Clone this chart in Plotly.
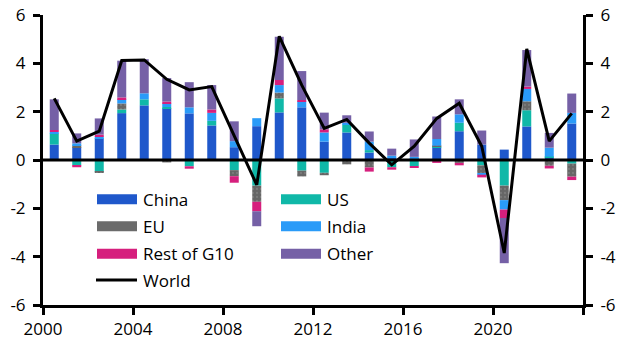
import plotly.graph_objects as go

years = list(range(2000, 2024))

china = [0.64, 0.53, 0.90, 1.94, 2.26, 2.14, 1.93, 1.43, 0.53, 1.40, 1.97, 2.18,
         0.76, 1.14, 0.31, 0.10, 0.05, 0.53, 1.19, 0.64, 0.43, 1.39, 0.11, 1.51]
us = [0.46, -0.22, -0.49, 0.15, 0.25, 0.05, -0.26, 0.19, -0.42, -1.06, 0.58, -0.44,
      -0.53, 0.33, 0.10, -0.30, -0.25, 0.03, 0.35, -0.22, -1.06, 0.67, 0.03, -0.15]
eu = [0.0, 0.08, -0.04, 0.25, 0.0, -0.10, 0.0, 0.0, -0.25, -0.67, 0.24, -0.24,
      -0.10, -0.18, -0.31, 0.0, 0.0, 0.03, -0.12, -0.32, -0.60, 0.37, -0.24, -0.54]
india = [0.06, 0.08, 0.07, 0.17, 0.25, 0.15, 0.25, 0.33, 0.25, 0.33, 0.31, 0.25,
         0.38, 0.07, 0.35, 0.08, 0.08, 0.28, 0.35, -0.07, -0.39, 0.51, 0.37, 0.44]
rest_g10 = [0.08, -0.08, 0.08, 0.08, 0.0, 0.08, -0.10, 0.14, -0.27, -0.39, 0.21, 0.05,
            0.13, 0.0, -0.17, -0.10, -0.08, -0.12, -0.10, -0.11, -0.35, 0.10, -0.11, -0.14]
other = [1.27, 0.41, 0.67, 1.52, 1.41, 0.97, 1.04, 1.01, 0.82, -0.62, 1.79, 1.20,
         0.69, 0.31, 0.42, 0.29, 0.72, 0.93, 0.62, 0.58, -1.87, 1.51, 0.61, 0.80]
world = [2.55, 0.78, 1.19, 4.12, 4.14, 3.34, 2.90, 3.04, 1.00, -1.03, 5.12, 3.10,
         1.31, 1.68, 0.70, -0.20, 0.57, 1.72, 2.35, 0.57, -3.85, 4.60, 0.78, 1.93]

y_ticks = [-6, -4, -2, 0, 2, 4, 6]
y_ticktext = ["-6", "-4", "-2", "0", "2", "4", "6"]
x_ticks = [2000, 2004, 2008, 2012, 2016, 2020, 2024]
x_ticktext = ["2000", "2004", "2008", "2012", "2016", "2020", ""]

series = [
    ("China", china, "#1F58CB"),
    ("US", us, "#10B8A8"),
    ("EU", eu, "#6B6B6B"),
    ("India", india, "#2A9BF8"),
    ("Rest of G10", rest_g10, "#D61F7D"),
    ("Other", other, "#7560A6"),
]

FONT = "Open Sans"
W, H = 632, 357
ML, MR, MT, MB = 43, 49, 15, 52
PW, PH = W - ML - MR, H - MT - MB

xc = [y + 0.5 for y in years]

fig = go.Figure()
for name, vals, col in series:
    marker = dict(color=col, line=dict(width=0))
    if name == "EU":
        marker["pattern"] = dict(shape=".", size=4, solidity=0.25,
                                 fgcolor="#8E8E8E", bgcolor="#666666")
    fig.add_trace(go.Bar(x=xc, y=vals, name=name, width=0.4, marker=marker,
                         showlegend=False))

fig.add_trace(go.Scatter(x=xc, y=world, mode="lines", name="World", yaxis="y2",
                         line=dict(color="black", width=3), showlegend=False))


def px_x(p):
    return (p - ML) / PW


def px_y(p):
    return (H - MB - p) / PH


shapes = [dict(type="line", xref="paper", yref="y", x0=0, x1=1, y0=0, y1=0,
               line=dict(color="black", width=3), layer="above")]
annotations = []

legend_cols = [(97, 137, 141), (281, 321, 325)]
legend_rows = [199.3, 226.3, 253.7]
for i, (name, vals, col) in enumerate(series):
    r, c = divmod(i, 2)
    x0, x1, tx = legend_cols[c]
    yc = legend_rows[r]
    shapes.append(dict(type="rect", xref="paper", yref="paper",
                       x0=px_x(x0), x1=px_x(x1), y0=px_y(yc - 5), y1=px_y(yc + 5),
                       fillcolor=col, line=dict(width=0)))
    annotations.append(dict(xref="paper", yref="paper", x=px_x(tx), y=px_y(yc),
                            text=name, showarrow=False, xanchor="left", yanchor="middle",
                            font=dict(family=FONT, size=17, color="black")))
shapes.append(dict(type="line", xref="paper", yref="paper",
                   x0=px_x(96), x1=px_x(137), y0=px_y(280), y1=px_y(280),
                   line=dict(color="black", width=3)))
annotations.append(dict(xref="paper", yref="paper", x=px_x(141), y=px_y(280),
                        text="World", showarrow=False, xanchor="left", yanchor="middle",
                        font=dict(family=FONT, size=17, color="black")))

axis_common = dict(showline=True, linecolor="black", linewidth=3, ticks="outside",
                   ticklen=7, tickwidth=3, tickcolor="black", showgrid=False,
                   zeroline=False, automargin=False,
                   tickfont=dict(family=FONT, size=17, color="black"))

fig.update_layout(
    width=W, height=H,
    margin=dict(l=ML, r=MR, t=MT, b=MB),
    plot_bgcolor="white", paper_bgcolor="white",
    barmode="relative",
    showlegend=False,
    xaxis=dict(range=[2000, 2024], tickvals=x_ticks, ticktext=x_ticktext, **axis_common),
    yaxis=dict(range=[-6, 6], tickvals=y_ticks, ticktext=y_ticktext,
               ticklabelstandoff=4, **axis_common),
    yaxis2=dict(range=[-6, 6], tickvals=y_ticks, ticktext=y_ticktext, overlaying="y",
                side="right", anchor="x", ticklabelstandoff=4, **axis_common),
    shapes=shapes,
    annotations=annotations,
)

fig.write_html("out.html", config={"displayModeBar": False},
               post_script="document.body.style.margin='0';")
